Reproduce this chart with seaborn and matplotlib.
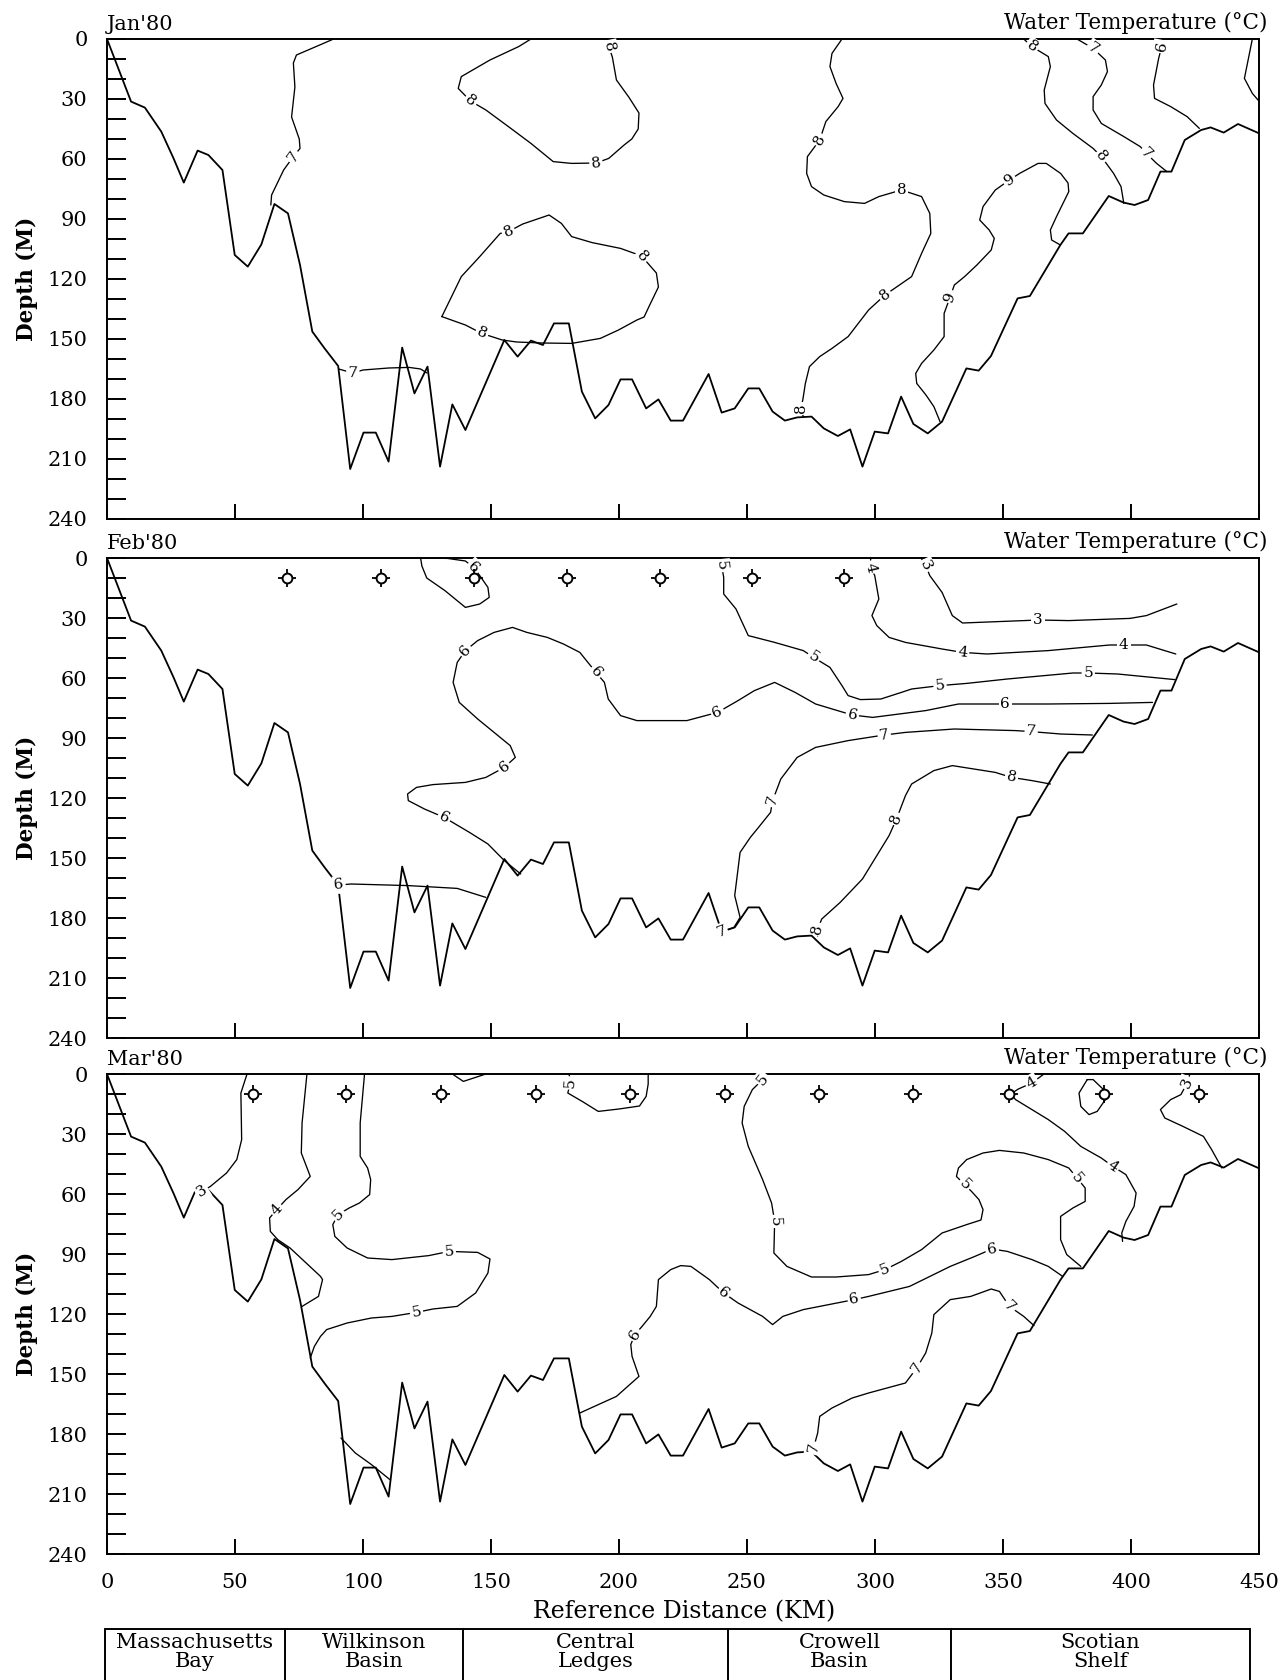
import math
import numpy as np
import pandas as pd
import matplotlib
matplotlib.use("Agg")
import matplotlib.pyplot as plt
import seaborn as sns
from matplotlib.ticker import MultipleLocator

# ---------------- data ----------------
PROFILE_KM = [0, 9.4, 14.8, 21.2, 26, 30, 35.4, 39.6, 45.1, 49.9, 55, 60.3, 65.4, 70.7, 75.4, 80.2, 85,
              90.3, 95, 100.2, 105, 110, 115.3, 120.1, 125.2, 130.1, 134.9, 140, 155.2, 160.4, 165.6,
              170.3, 174.6, 180.4, 185.5, 190.7, 195.9, 200.6, 205.1, 210.6, 215.4, 220.2, 225, 235,
              240.1, 245.2, 250.5, 254.8, 260, 264.8, 269.6, 275.2, 280, 285.5, 290.3, 295.1, 299.9,
              305.1, 310.2, 315, 320.6, 326.2, 335.7, 340.5, 345.3, 355.7, 360.5, 372.4, 375.6, 381.2,
              391.3, 397.1, 401.4, 406.7, 411.5, 415.8, 421, 427.4, 431.1, 436.2, 441.8, 452.9]
PROFILE_M = [0, 31.3, 34.3, 46.3, 59.7, 71.8, 55.8, 58, 65.5, 108, 113.8, 102.7, 82.5, 87.2, 113, 146.3,
             154.7, 163.5, 215, 196.8, 196.8, 211.3, 154.3, 177.2, 163.8, 213.8, 182.7, 195.5, 150.5,
             158.8, 150.8, 153, 142.2, 142.2, 176.3, 189.7, 183, 170.2, 170.2, 184.7, 180.2, 190.8,
             190.8, 167.5, 186.8, 184.7, 174.7, 174.7, 186.3, 190.8, 189.2, 188.8, 194.7, 198.5, 195.2,
             213.8, 196.3, 197.2, 178.8, 192.5, 197.2, 191.3, 164.7, 165.8, 158.5, 129.7, 128.5, 103,
             97.2, 97.2, 78.5, 81.8, 83, 80.5, 66.3, 66.3, 50.5, 45.5, 44.2, 46.8, 42.5, 48.8]

# --- January isotherms (km, depth m)
JAN_7_WEST = [(88.5, 0), (84, 2.5), (74, 8), (72.8, 12), (73.4, 24), (72.1, 39), (75.1, 50), (75.4, 54.7),
              (72.8, 58.8), (69, 65.5), (64.3, 78), (64, 83)]
JAN_7_DEEP = [(90.5, 165), (96, 167), (100, 165.5), (110, 164.5), (118, 164.2), (122.5, 165), (125, 167)]
JAN_8_TOP = [(165.6, 0), (160.8, 3.8), (149.6, 10.5), (138.4, 18.8), (137.2, 24.7), (142, 31), (148, 35.5),
             (156.8, 43.8), (165.6, 52.2), (174.3, 61.3), (181.5, 62.2), (191, 62), (196, 59.7), (202, 53),
             (205, 50), (207.5, 45), (207.8, 37), (203.8, 29), (199, 20.5), (197.4, 9), (196, 3.8), (196, 0)]
JAN_8_MID = [(130.8, 138.8), (138.4, 118.8), (145.6, 108.8), (153.6, 97.2), (156.8, 96.3), (162.4, 92.5),
             (172.7, 88), (177.5, 92.2), (181.5, 98.8), (189.5, 101.8), (200.6, 104.7), (207.8, 108),
             (209, 108.8), (214.6, 117), (215.4, 124), (212, 133), (209.8, 139), (207, 140.5),
             (199.8, 145.5), (192.7, 149.7), (181.5, 152.2), (170, 152), (160, 151.5), (154.4, 150.5),
             (146.4, 147.2), (140, 143), (130.8, 138.8)]
JAN_8_CENTER = [(287.1, 0), (283.2, 7.2), (282.4, 13.8), (284.8, 22.2), (287.5, 29.7), (285.6, 33.8),
                (280.8, 41.3), (278.4, 50.5), (273.6, 58.8), (273.3, 67.2), (275.2, 73.8), (280, 78),
                (288, 81.3), (295.9, 82.2), (301.5, 78.8), (310.3, 75.5), (318.2, 78.8), (321.4, 87.2),
                (321.8, 97.2), (318.2, 107.2), (314.3, 118.8), (303.9, 128), (297.5, 135.5), (289.5, 148.8),
                (283.2, 154.7), (278.4, 158.8), (274.4, 163.8), (272.8, 172.2), (272, 178.8),
                (271.2, 184.7), (272, 189)]
JAN_9 = [(372.4, 103), (369, 100.5), (368.5, 95.5), (370.9, 88.8), (375.7, 76.3), (375.4, 72), (372.5, 67.2),
         (366.9, 62.2), (363.7, 62.2), (356.5, 67.2), (352.5, 70.5), (347, 75.5), (342.2, 83.8),
         (340.9, 90.5), (344.6, 95.5), (346.6, 99.7), (345.4, 105.5), (339.8, 113), (335, 118.8),
         (331, 123), (329.4, 128.8), (327, 137.2), (327, 148.8), (323, 155.5), (318.2, 162.2),
         (315.9, 167.2), (316.3, 172.2), (319.9, 178), (323, 183.8), (325.4, 191.3)]
JAN_8_EAST = [(358.1, 0), (361.3, 3.8), (367.7, 8.8), (368.5, 13.8), (366.1, 25.5), (366.4, 32.2),
              (370.9, 40.5), (377.3, 47.2), (385.2, 54.7), (388.4, 58.8), (393.2, 67.2), (396.1, 73.8),
              (397.2, 82.2)]
JAN_7_EAST = [(378.9, 0), (385.2, 4.7), (390, 10.5), (390.8, 16.3), (388.4, 23), (385.2, 28.8),
              (385.2, 35.5), (388.4, 42.2), (397.2, 48.8), (403.6, 53.8), (406, 57.2), (410, 62.2),
              (414, 66.3)]
JAN_6_EAST = [(412.3, 0), (412, 3.8), (410.8, 9.7), (408.8, 23), (409.2, 29.7), (415.5, 33.8),
              (421.9, 38.8), (426.7, 44.7)]
JAN_FAR_EAST = [(447.4, 0), (444.3, 19.7), (447.4, 27.2), (453, 35.5)]
JAN_LABELS = [("7", 72.8, 58.8), ("7", 96, 167), ("8", 142, 31), ("8", 191, 62), ("8", 196, 3.8),
              ("8", 156.8, 96.3), ("8", 209, 108.8), ("8", 146.4, 147.2), ("8", 278.4, 50.5),
              ("8", 310.3, 75.5), ("8", 303.9, 128), ("8", 271.2, 184.7), ("9", 352.5, 70.5),
              ("9", 329.4, 128.8), ("8", 361.3, 3.8), ("8", 388.4, 58.8), ("7", 385.2, 4.7),
              ("7", 406, 57.2), ("6", 412, 3.8)]

# --- February isotherms
FEB_6_CAP = [(122.5, 0), (123, 4), (124.9, 10), (132, 16.3), (140, 24.7), (145.6, 23), (149.3, 19.7),
             (148.8, 14.7), (145.6, 8.8), (143.2, 4.7), (140, 1.5), (133, 0.2), (122.5, 0)]
FEB_6_MAIN = [(161.6, 158), (155.2, 151.3), (148.8, 143), (141.6, 137.2), (131.7, 129.7), (124, 125.5),
              (117.7, 121.3), (117.4, 118), (120.9, 114.7), (127.3, 113.3), (140, 112.2), (148, 109.7),
              (155.2, 104.7), (159.5, 99.7), (157.5, 93.8), (151.2, 87.2), (144.8, 80.5), (137.6, 72.2),
              (135.2, 62.2), (136.8, 52.2), (140, 46.3), (144.8, 41.3), (151.2, 37.2), (158.4, 34.7),
              (164, 37.2), (172, 39.7), (178.3, 43), (184.7, 47.2), (191, 57.2), (194.3, 62.2),
              (195.8, 70.5), (200.6, 78.8), (207, 81.3), (226.5, 81.3), (238.5, 77.2), (246.5, 71.3),
              (252.9, 66.3), (260.8, 62.2), (268.8, 67.2), (276.8, 73), (291.1, 78.5), (299.1, 79.7),
              (319.8, 76.3), (332.6, 73), (350.9, 73), (367.7, 73), (391.6, 72.7), (408.4, 72.2)]
FEB_6_DEEP = [(90.6, 163.5), (95.4, 163), (117.7, 163.8), (136.8, 165.2), (148, 169.7)]
FEB_5 = [(240.1, 0), (240.1, 3.8), (240.9, 9.7), (240.9, 18), (245.7, 25.5), (250.5, 38.8), (260.8, 42.2),
         (272, 46.3), (276, 49.7), (282.4, 54.7), (287.1, 63.8), (289.5, 68.8), (294.3, 70.8),
         (302.3, 70.5), (310.3, 67.2), (314.3, 65.5), (325.4, 63.8), (335.8, 62.7), (351.7, 60.5),
         (377.3, 57.5), (383.3, 57.5), (394.8, 58), (417.1, 60.8)]
FEB_4 = [(298.3, 0), (298.3, 4.7), (299.9, 8.8), (301.5, 20.5), (298.8, 28.8), (300.7, 33.8),
         (305.5, 39.7), (311.9, 42.2), (326.2, 45.5), (334.2, 47.2), (343.8, 48), (367.7, 46.3),
         (391.6, 43.5), (397.2, 43.5), (406, 43.5), (417.5, 48)]
FEB_3 = [(318, 0), (319.8, 3.8), (321.4, 8.8), (326.2, 17.2), (330.2, 28.8), (334.2, 32.5), (358.1, 31.3),
         (363.7, 31), (375.7, 31.3), (399.6, 30.2), (406, 28.8), (417.9, 23)]
FEB_7 = [(240, 187), (244.9, 184.7), (247.3, 179.7), (245.2, 168.8), (247.3, 147.2), (251.3, 139.7),
         (254.5, 134.7), (259.2, 127.2), (260, 121.3), (263.2, 110.5), (269.6, 99.7), (276.8, 94.7),
         (289.5, 91.3), (303.6, 88.5), (311.9, 87.2), (331, 85.5), (354.9, 86.3), (361, 86.8),
         (372.5, 88), (384.9, 88.5)]
FEB_8 = [(277.6, 189), (277.6, 185.5), (279.2, 180.5), (286.4, 172.2), (295.1, 160.5), (305.5, 138.8),
         (308.4, 130.5), (311.9, 118.8), (314.3, 113), (323, 106.3), (330.2, 103.8), (347, 107.2),
         (353.3, 109.7), (361.3, 111.3), (368.5, 113)]
FEB_LABELS = [("6", 143.2, 4.7), ("6", 140, 46.3), ("6", 191, 57.2), ("6", 238.5, 77.2), ("6", 291.1, 78.5),
              ("6", 350.9, 73), ("6", 155.2, 104.7), ("6", 131.7, 129.7), ("6", 90.6, 163.5),
              ("5", 240.1, 3.8), ("5", 276, 49.7), ("5", 325.4, 63.8), ("5", 383.3, 57.5),
              ("4", 298.3, 4.7), ("4", 334.2, 47.2), ("4", 397.2, 43.5), ("3", 319.8, 3.8),
              ("3", 363.7, 31), ("7", 240, 187), ("7", 260, 121.3), ("7", 303.6, 88.5), ("7", 361, 86.8),
              ("8", 277.6, 185.5), ("8", 308.4, 130.5), ("8", 353.3, 109.7)]
FEB_STATIONS_KM = [70.5, 107, 143.5, 179.5, 216, 252, 288]

# --- March isotherms
MAR_3_WEST = [(54.7, 0), (52.3, 9.5), (52.6, 32.8), (50.7, 42.8), (46.7, 49.5), (40.4, 56.2), (37.2, 58.7)]
MAR_4_WEST = [(78.1, 0), (76.2, 24.5), (75.9, 39.5), (79.4, 51.2), (74.6, 57.8), (69.9, 62.8), (66.3, 67.8),
              (63.5, 72), (63.8, 78.7), (66.7, 82.8), (71.5, 87), (77.8, 94.5), (83.4, 101.2),
              (84.2, 102.8), (82.6, 111.2), (76.2, 116.2)]
MAR_5_WEST = [(100.6, 0), (98.9, 24.5), (98.9, 41.2), (101.8, 47), (103, 52.8), (102.6, 60.3), (98.6, 64.5),
              (94.6, 67), (90.3, 70.3), (88.2, 75.3), (89, 81.2), (93.8, 87), (101.8, 92), (111.3, 92.8),
              (125.7, 90.8), (133.7, 88.7), (144.8, 89.2), (149.6, 92.5), (148.8, 99.5), (144, 109.5),
              (136.8, 116.2), (127.3, 117.5), (120.9, 119.2), (111.3, 121.2), (103.3, 122), (93.8, 124.5),
              (85.8, 127.8), (83.4, 131.2), (81, 136.2), (79.4, 142)]
MAR_5_DIP = [(134.9, 0), (139.2, 3.7), (148, 0)]
MAR_5_CAP = [(180.5, 0), (181, 4.5), (180, 9.5), (186, 14), (191.9, 18.7), (200, 17.5), (208, 16),
             (210.6, 11.2), (211.4, 5), (211.4, 0)]
MAR_7_WEST = [(91.4, 182), (97, 189.5), (103.3, 195.3), (110.5, 202.8)]
MAR_6 = [(184.7, 169.5), (199, 161.2), (207.8, 151.2), (205.1, 141.2), (204.6, 135.3), (206.2, 130.3),
         (209, 126.2), (212.2, 121.2), (214.6, 116.2), (215.4, 102.8), (220.2, 97.8), (224.1, 95.8),
         (228.1, 96.2), (235.3, 102.8), (240.9, 109.5), (246.5, 114.5), (256.1, 121.2), (260, 125.3),
         (264, 121.2), (272, 117.8), (291.9, 112.8), (297.5, 111.2), (313.5, 106.2), (329.4, 96.2),
         (339, 91.2), (345.7, 87.5), (351.7, 88.7), (361.3, 92.8), (367.7, 96.2), (373.3, 101.2)]
MAR_5_MID = [(257, 0), (256.1, 2.8), (252.1, 7.8), (248.9, 16.2), (248.1, 24.5), (250.5, 36.2),
             (256.1, 52.8), (259.6, 64.5), (260.8, 73.7), (260.5, 89.5), (265.6, 96.2), (275.2, 101.5),
             (284.8, 101.5), (297.5, 100.3), (303.9, 97.8), (310.3, 93.7), (318.2, 87.8), (326.2, 79.5),
             (335.8, 75.3), (341.4, 73), (342.2, 67.8), (340.6, 62.8), (337.7, 58.7), (335, 55.3),
             (331.8, 51.2), (332.6, 47), (335.8, 42.8), (342.2, 39.5), (348.6, 38.2), (358.1, 39.5),
             (367.7, 42.8), (375.7, 47), (378.9, 52), (382.1, 57), (382.1, 63.7), (377.3, 67),
             (372.5, 71.2), (372.5, 82.8), (374.9, 90.3), (380.4, 96.2)]
MAR_7_EAST = [(276, 190), (276, 187), (277.6, 179.5), (278.4, 171.2), (283.2, 167), (291.1, 162),
              (297.5, 159.5), (311.9, 154.5), (316.3, 147), (319.8, 139.5), (322.2, 129.5), (323, 120.3),
              (329.4, 112.8), (337.4, 111.2), (345.4, 107.5), (348.6, 108.7), (352.5, 116.2),
              (358.1, 121.2), (362.1, 125.8)]
MAR_4_EAST = [(366, 0), (361.3, 4.5), (356, 7.5), (353, 10), (354.9, 12.8), (361.3, 17.8), (367.7, 22.8),
              (374.1, 28.7), (380.4, 36.2), (388.4, 42), (392.9, 46.2), (398, 50.3), (402, 59.5),
              (401.2, 66.2), (398, 73.7), (396.4, 79.5), (396.7, 83.7)]
MAR_LOOP = [(382.9, 2.8), (379.7, 9.5), (380.4, 16.2), (383.6, 20.3), (386.8, 18.7), (390, 12.8),
            (390, 8.7), (385.2, 2.8), (382.9, 2.8)]
MAR_3_EAST = [(423, 0), (421.9, 4.5), (419.5, 10.3), (415.5, 12.8), (411.5, 17.8), (413.2, 22),
              (420.3, 26.2), (428.3, 31.2), (431.5, 37.8), (435.5, 47)]
MAR_LABELS = [("3", 37.2, 58.7), ("4", 66.3, 67.8), ("5", 90.3, 70.3), ("5", 133.7, 88.7),
              ("5", 120.9, 119.2), ("5", 181, 4.5), ("5", 256.1, 2.8), ("5", 260.8, 73.7),
              ("5", 303.9, 97.8), ("5", 335, 55.3), ("5", 378.9, 52), ("6", 206.2, 130.3),
              ("6", 240.9, 109.5), ("6", 291.9, 112.8), ("6", 345.7, 87.5), ("7", 276, 187),
              ("7", 316.3, 147), ("7", 352.5, 116.2), ("4", 361.3, 4.5), ("4", 392.9, 46.2),
              ("3", 421.9, 4.5)]
MAR_STATIONS_KM = [57, 93.4, 130.6, 167.4, 204.2, 241.4, 278.3, 315, 352.5, 389.6, 426.4]
STATION_DEPTH = 10

MONTHS = ["Jan'80", "Feb'80", "Mar'80"]
PANEL_TITLE = "Water Temperature (°C)"
Y_TICKS = [0, 30, 60, 90, 120, 150, 180, 210, 240]
X_TICKS = [0, 50, 100, 150, 200, 250, 300, 350, 400, 450]
REGIONS = ["Massachusetts\nBay", "Wilkinson\nBasin", "Central\nLedges", "Crowell\nBasin", "Scotian\nShelf"]
REGION_BOUNDS_KM = [-0.8, 69.5, 139, 242.6, 329.7, 446.5]

PANEL_LINES = [
    [JAN_7_WEST, JAN_7_DEEP, JAN_8_TOP, JAN_8_MID, JAN_8_CENTER, JAN_9, JAN_8_EAST, JAN_7_EAST,
     JAN_6_EAST, JAN_FAR_EAST],
    [FEB_6_CAP, FEB_6_MAIN, FEB_6_DEEP, FEB_5, FEB_4, FEB_3, FEB_7, FEB_8],
    [MAR_3_WEST, MAR_4_WEST, MAR_5_WEST, MAR_5_DIP, MAR_5_CAP, MAR_7_WEST, MAR_6, MAR_5_MID, MAR_7_EAST,
     MAR_4_EAST, MAR_LOOP, MAR_3_EAST],
]
PANEL_LABELS = [JAN_LABELS, FEB_LABELS, MAR_LABELS]
PANEL_STATIONS = [[], FEB_STATIONS_KM, MAR_STATIONS_KM]

# ---------------- style ----------------
sns.set_theme(style="ticks")
plt.rcParams["font.family"] = ["DejaVu Serif", "DejaVu Sans"]
plt.rcParams["axes.linewidth"] = 1.4
for key in ["text.color", "axes.labelcolor", "xtick.color", "ytick.color", "axes.edgecolor"]:
    plt.rcParams[key] = "black"

W, H = 1280, 1680
fig = plt.figure(figsize=(W / 100, H / 100), dpi=100)


def rect(l, t, r, b):
    return [l / W, 1 - b / H, (r - l) / W, (b - t) / H]


PANEL_PX = [(107, 39, 1259, 519), (107, 558, 1259, 1038), (107, 1074, 1259, 1554)]

for p, (l, t, r, b) in enumerate(PANEL_PX):
    ax = fig.add_axes(rect(l, t, r, b))
    lines = PANEL_LINES[p]
    rows = []
    for i, pts in enumerate(lines):
        for j, (x, y) in enumerate(pts):
            rows.append({"line": i, "order": j, "km": x, "m": y})
    df = pd.DataFrame(rows)
    sns.lineplot(data=df, x="km", y="m", units="line", estimator=None, sort=False,
                 color="black", lw=0.95, ax=ax, legend=False)
    prof = pd.DataFrame({"km": PROFILE_KM, "m": PROFILE_M})
    sns.lineplot(data=prof, x="km", y="m", estimator=None, sort=False, color="black", lw=1.3, ax=ax)

    ax.set_xlim(0, 450)
    ax.set_ylim(240, 0)
    ax.set_xlabel("")
    ax.set_ylabel("")
    for s in ax.spines.values():
        s.set_visible(True)
        s.set_color("black")
        s.set_linewidth(1.4)

    # contour labels with rotation following the line
    for (txt, lx, ly) in PANEL_LABELS[p]:
        best = None
        for pts in lines:
            for k, (x, y) in enumerate(pts):
                d = (x - lx) ** 2 + ((y - ly) * 0.8) ** 2
                if best is None or d < best[0]:
                    best = (d, pts, k)
        _, pts, k = best
        a = pts[max(k - 1, 0)]
        c = pts[min(k + 1, len(pts) - 1)]
        d0 = ax.transData.transform(a)
        d1 = ax.transData.transform(c)
        ang = math.degrees(math.atan2(d1[1] - d0[1], d1[0] - d0[0]))
        if ang > 90:
            ang -= 180
        if ang <= -90:
            ang += 180
        ax.text(lx, ly, txt, rotation=ang, rotation_mode="anchor", ha="center", va="center",
                fontsize=11, color="black", zorder=6,
                bbox=dict(boxstyle="square,pad=0.12", fc="white", ec="none"))

    st = PANEL_STATIONS[p]
    if st:
        sdf = pd.DataFrame({"km": st, "m": [STATION_DEPTH] * len(st)})
        sns.scatterplot(data=sdf, x="km", y="m", marker="+", s=170, color="black",
                        linewidth=1.3, ax=ax, zorder=7, legend=False)
        sns.scatterplot(data=sdf, x="km", y="m", marker="o", s=50, facecolor="white",
                        edgecolor="black", linewidth=1.4, ax=ax, zorder=8, legend=False)
        ax.set_xlabel("")
        ax.set_ylabel("")

    ax.set_yticks(Y_TICKS)
    ax.set_yticklabels([str(v) for v in Y_TICKS])
    ax.yaxis.set_minor_locator(MultipleLocator(10))
    ax.set_xticks(X_TICKS)
    ax.tick_params(axis="y", which="both", direction="in", length=14, width=1.4,
                   labelsize=15, pad=14, left=True, right=False, colors="black")
    ax.tick_params(axis="x", which="both", direction="in", length=11, width=1.4,
                   labelsize=15, pad=14, bottom=True, top=False, colors="black")
    if p < 2:
        ax.set_xticklabels([])
    else:
        ax.set_xticklabels([str(v) for v in X_TICKS])

    ax.text(0.0, 1.01, MONTHS[p], transform=ax.transAxes, ha="left", va="bottom", fontsize=15)
    ax.text(1.007, 1.01, PANEL_TITLE, transform=ax.transAxes, ha="right", va="bottom", fontsize=15.5)
    fig.text(27 / W, 1 - ((t + b) / 2) / H, "Depth (M)", rotation=90, ha="center", va="center",
             fontsize=15.5, fontweight="bold")

fig.text(684 / W, 1 - 1612 / H, "Reference Distance (KM)", ha="center", va="center", fontsize=17)

# region table
axt = fig.add_axes(rect(107, 1629, 1259, 1684))
axt.set_xlim(0, 450)
axt.set_ylim(0, 1)
axt.axis("off")
axt.plot([REGION_BOUNDS_KM[0], REGION_BOUNDS_KM[-1]], [1, 1], color="black", lw=1.4, clip_on=False)
for bk in REGION_BOUNDS_KM:
    axt.plot([bk, bk], [0, 1], color="black", lw=1.4, clip_on=False)
for i, name in enumerate(REGIONS):
    cx = (REGION_BOUNDS_KM[i] + REGION_BOUNDS_KM[i + 1]) / 2
    axt.text(cx, 0.58, name, ha="center", va="center", fontsize=15, linespacing=0.95)

fig.savefig("out.png", dpi=100)
